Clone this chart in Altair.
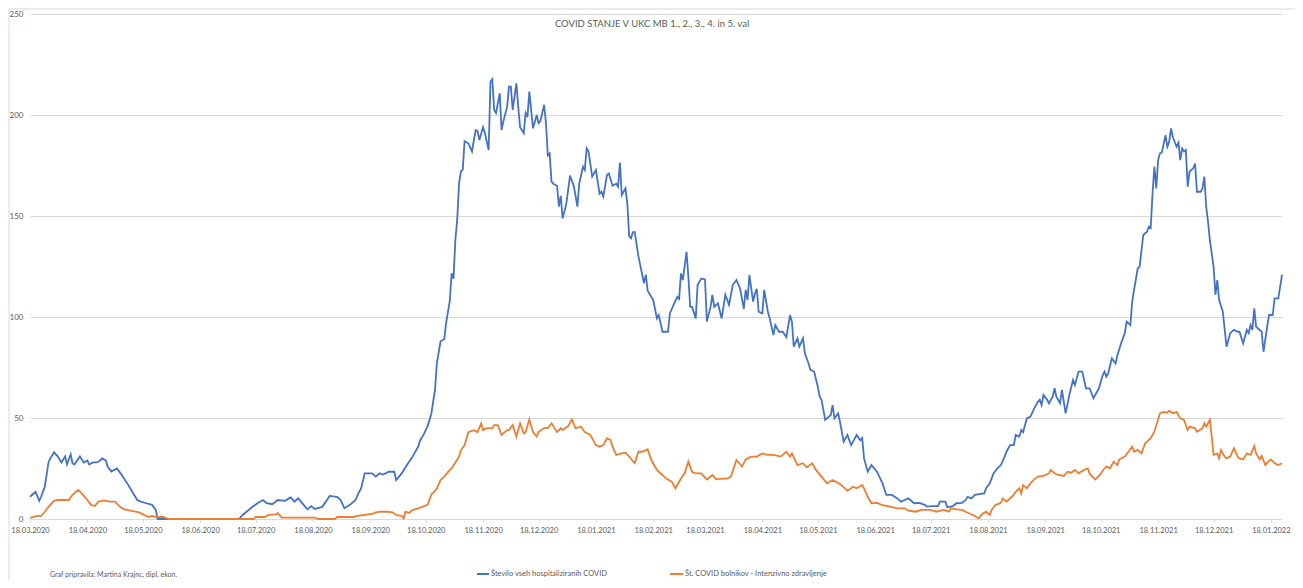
import altair as alt
import pandas as pd

START = pd.Timestamp("2020-03-18")
TITLE = "COVID STANJE V UKC MB 1., 2., 3., 4. in 5. val"
FOOTER = "Graf pripravila: Martina Krajnc, dipl. ekon."
BLUE_NAME = "Število vseh hospitaliziranih COVID"
ORANGE_NAME = "Št. COVID bolnikov - Intenzivno zdravljenje"
BLUE = "#4472C4"
ORANGE = "#ED7D31"

y_ticks = [0, 50, 100, 150, 200, 250]
x_tick_labels = [
    "18.03.2020", "18.04.2020", "18.05.2020", "18.06.2020", "18.07.2020", "18.08.2020",
    "18.09.2020", "18.10.2020", "18.11.2020", "18.12.2020", "18.01.2021", "18.02.2021",
    "18.03.2021", "18.04.2021", "18.05.2021", "18.06.2021", "18.07.2021", "18.08.2021",
    "18.09.2021", "18.10.2021", "18.11.2021", "18.12.2021", "18.01.2022",
]
END_DAY = 677  # days after 18.03.2020 (last reported day)

# days after 18.03.2020 and the number of all hospitalised COVID patients
blue_day = [
    0, 3, 5, 6, 8, 10, 11, 13, 15, 17,
    19, 20, 22, 23, 24, 27, 29, 31, 32, 34,
    36, 38, 39, 41, 42, 44, 47, 49, 52, 55,
    58, 60, 63, 66, 68, 69, 113, 115, 120, 123,
    126, 128, 131, 134, 138, 140, 141, 143, 145, 148,
    150, 152, 154, 158, 160, 162, 166, 168, 170, 173,
    176, 178, 179, 181, 185, 187, 189, 191, 194, 197,
    198, 201, 204, 207, 210, 211, 213, 215, 217, 219,
    220, 222, 224, 225, 227, 228, 229, 230, 231, 232,
    233, 234, 235, 237, 239, 240, 241, 242, 243, 245,
    246, 248, 249, 250, 251, 252, 254, 255, 256, 258,
    259, 260, 261, 263, 264, 265, 267, 268, 269, 270,
    272, 274, 275, 276, 278, 279, 280, 281, 282, 283,
    285, 286, 287, 288, 290, 292, 294, 295, 296, 297,
    299, 300, 301, 302, 304, 306, 308, 309, 310, 312,
    313, 315, 317, 318, 319, 320, 322, 323, 324, 325,
    326, 327, 329, 332, 333, 334, 337, 339, 340, 342,
    345, 346, 348, 350, 351, 352, 353, 355, 356, 357,
    358, 360, 361, 363, 365, 366, 368, 369, 370, 372,
    374, 376, 378, 380, 382, 384, 386, 387, 388, 389,
    391, 392, 393, 394, 396, 397, 399, 400, 402, 403,
    405, 407, 409, 411, 412, 413, 415, 416, 418, 419,
    421, 422, 424, 426, 427, 428, 430, 433, 434, 435,
    437, 438, 440, 442, 444, 447, 449, 450, 451, 453,
    455, 458, 461, 463, 466, 469, 471, 473, 475, 478,
    481, 484, 485, 488, 491, 492, 495, 496, 499, 501,
    504, 506, 507, 509, 511, 514, 516, 517, 519, 521,
    523, 525, 527, 528, 530, 532, 533, 535, 536, 537,
    539, 541, 543, 545, 546, 547, 548, 550, 551, 553,
    554, 555, 557, 558, 560, 562, 564, 565, 567, 569,
    571, 573, 575, 578, 580, 581, 582, 583, 585, 587,
    588, 590, 592, 593, 595, 596, 597, 599, 600, 602,
    604, 605, 606, 607, 608, 609, 610, 611, 612, 614,
    615, 616, 617, 618, 620, 621, 622, 623, 624, 625,
    626, 627, 629, 630, 631, 633, 634, 635, 636, 637,
    638, 640, 641, 642, 643, 645, 647, 649, 651, 653,
    654, 656, 658, 659, 660, 661, 662, 663, 666, 667,
    669, 670, 672, 673, 675, 677,
]
blue_val = [
    11, 13.5, 9, 11, 16, 28, 30, 33, 31, 28,
    31, 27, 32, 27.5, 27, 31, 28, 29, 27, 28,
    28, 29, 30, 29, 26, 23.5, 25, 22.6, 18.5, 14,
    9.4, 8.6, 7.8, 7, 4.5, 0, 0, 2, 5.8, 7.8,
    9.4, 7.8, 7.3, 9.4, 9, 10.2, 10.7, 8.6, 10.2, 7,
    4.8, 6.4, 5, 6, 8.6, 11.4, 11, 9.4, 5.3, 7,
    9.4, 13.5, 15, 22.6, 22.6, 21, 22.6, 22, 23.4, 23.4,
    19.3, 22.6, 27, 31, 36, 39, 42, 46, 52, 64,
    77, 88, 89, 97, 108, 121.6, 119, 138, 148, 166,
    172, 173, 187, 186, 182, 187.5, 192.5, 192, 187.6, 194,
    191, 182.7, 216.5, 217.7, 202.5, 201, 210.7, 192.6, 197, 204,
    214, 214, 202.5, 215.7, 204, 194, 191, 201, 199, 211.6,
    193.4, 200, 196, 197, 205, 196, 180, 181, 167, 166,
    165, 154.6, 160, 148.8, 156, 170, 165, 160, 154.6, 166,
    174.4, 172.8, 183.5, 182, 169.5, 172.8, 161, 162, 159.6, 170.3,
    171, 165, 166, 164.5, 176.4, 160.4, 163.7, 156, 140, 139,
    142, 142, 130, 116.7, 121, 113, 108.4, 99.3, 101, 92.7,
    92.7, 101.8, 106, 110, 109, 121.6, 118.3, 132.3, 120, 105,
    105, 99.3, 116, 119, 118.6, 97.7, 105, 111, 105, 106.8,
    99.3, 111, 106, 115.8, 118.3, 114, 104, 113.4, 108.4, 120.8,
    107.6, 111.7, 114, 102.6, 101.8, 113.4, 102.6, 99.3, 91, 96,
    92.7, 92.7, 90, 101, 97.7, 85.3, 89.4, 85.3, 89.4, 82,
    77, 73.8, 73, 65.5, 60.6, 59, 49, 51.5, 56.4, 49.8,
    52.3, 48, 38.3, 41.6, 36.6, 41.6, 39, 40, 30, 23.4,
    26.7, 23.4, 17.7, 11.9, 11.9, 10.2, 8.6, 9.4, 10.2, 7.8,
    8, 6.9, 6.1, 6.4, 6.4, 8.6, 8.6, 5.8, 6.4, 7.8,
    8, 9.4, 11, 10.2, 11.9, 12.4, 12.7, 15.2, 17.7, 22.6,
    25, 26.7, 30.9, 33.3, 36.6, 36.6, 41.6, 40.8, 44, 43,
    49.8, 50.7, 54.8, 58, 59, 56.4, 61.4, 59, 57.3, 60.6,
    64.7, 60.6, 57.3, 63.9, 52.3, 61.4, 68.8, 66.3, 73, 73,
    64.7, 64.7, 59.7, 64.7, 71, 73, 70.5, 72, 79.5, 77,
    81, 87, 92, 97.7, 96, 107.6, 113.4, 124, 125, 140.6,
    142.2, 144.7, 144, 161.2, 174.4, 163.7, 177.7, 181, 181.4, 190,
    184.3, 186.8, 193.4, 189, 184.3, 186.3, 177.7, 183.5, 182, 182.7,
    164.5, 172, 173.6, 176, 162, 162, 163.7, 169.5, 154.6, 147.2,
    138, 125, 111, 118.3, 108.4, 102.6, 85.3, 92, 93.6, 92.7,
    92.7, 87, 93.6, 92, 96, 93.6, 104.3, 95.2, 92.7, 82.8,
    95.2, 101, 101, 109.2, 109.2, 120.8,
]

# days after 18.03.2020 and the number of COVID patients in intensive care
orange_day = [
    0, 2, 4, 6, 8, 10, 13, 15, 21, 23,
    26, 28, 31, 33, 35, 37, 40, 43, 46, 49,
    51, 55, 59, 61, 64, 66, 68, 72, 75, 121,
    122, 127, 129, 133, 134, 136, 154, 156, 165, 166,
    175, 177, 181, 185, 187, 190, 193, 196, 198, 201,
    202, 203, 205, 207, 210, 212, 215, 217, 220, 222,
    224, 227, 228, 232, 233, 235, 237, 240, 242, 244,
    245, 247, 250, 251, 253, 255, 258, 259, 261, 263,
    265, 267, 268, 270, 272, 274, 275, 278, 280, 282,
    285, 287, 288, 291, 293, 295, 298, 300, 303, 306,
    308, 310, 312, 314, 315, 317, 320, 322, 324, 327,
    329, 331, 334, 336, 339, 342, 344, 347, 349, 352,
    354, 356, 358, 360, 363, 366, 369, 371, 374, 377,
    379, 382, 385, 387, 390, 393, 396, 399, 402, 406,
    409, 411, 412, 415, 418, 420, 423, 425, 428, 431,
    434, 438, 442, 444, 445, 447, 450, 451, 453, 455,
    458, 461, 465, 469, 473, 475, 479, 482, 487, 490,
    494, 497, 498, 501, 504, 507, 510, 513, 515, 517,
    519, 520, 522, 525, 526, 528, 531, 533, 535, 536,
    537, 539, 541, 543, 545, 548, 551, 552, 554, 556,
    559, 561, 563, 565, 567, 570, 572, 573, 576, 578,
    581, 582, 584, 586, 588, 589, 592, 594, 596, 597,
    599, 601, 603, 606, 608, 611, 613, 615, 616, 618,
    620, 622, 624, 626, 627, 630, 631, 634, 635, 636,
    638, 639, 640, 642, 643, 644, 646, 647, 649, 651,
    653, 654, 656, 658, 660, 662, 663, 665, 666, 668,
    669, 671, 673, 675, 677,
]
orange_val = [
    0.5, 1, 1.5, 1.5, 3.6, 6, 9, 9.4, 9.4, 12,
    14.4, 12.7, 9.4, 7, 6.4, 8.6, 9.2, 8.6, 8.6, 5.8,
    4.8, 4, 3.3, 2.3, 1, 1.5, 1, 1, 0, 0,
    1, 1, 2, 2.3, 3, 0.7, 0.7, 0, 0, 1,
    1, 1.5, 2, 2.5, 3.3, 3.6, 3.6, 3.3, 2, 1.5,
    0.3, 3.6, 3, 4.5, 5.3, 6, 7, 12, 15, 19.3,
    21, 24.3, 25, 30.9, 34, 36.6, 43, 44, 43, 47.4,
    44, 45, 45, 46.5, 46.5, 41.6, 44, 44, 46.5, 40.8,
    47.4, 42.4, 43, 49.3, 43, 40.8, 43, 45, 45, 47.4,
    43, 45, 44, 46, 49.3, 45, 45.7, 43, 41.6, 36.6,
    35.8, 36.6, 40, 39, 35.8, 31.7, 32.5, 32.8, 30.9, 27.6,
    33.3, 33.3, 34.5, 29.2, 24.3, 21.8, 20, 18.5, 15.2, 20,
    22.6, 28.4, 23.4, 22.6, 22.6, 19.6, 21.8, 19.6, 20, 20,
    21, 29.2, 26, 29.5, 30.9, 30.9, 32.5, 31.7, 31.7, 30.9,
    33.3, 30.9, 32.5, 26.7, 27.6, 25.6, 27.6, 24.3, 21, 17.7,
    19.3, 17.3, 14, 15.2, 16, 15.2, 16.8, 15.2, 11, 7.8,
    8, 6.9, 6.1, 5.3, 5.3, 4.1, 3.6, 4.5, 4.5, 3.6,
    4.5, 3.6, 5.3, 4.8, 4.5, 3.1, 2, 0.3, 2.5, 3.6,
    2, 4.5, 6.9, 8, 10.2, 8.6, 11, 13.5, 15.2, 12.7,
    16.8, 15.2, 17.7, 19.6, 21, 21.3, 22.6, 24.3, 22.6, 21.8,
    21.3, 23.4, 22.9, 24.3, 22.6, 24.3, 25, 22.3, 19.6, 21.3,
    25, 26, 25, 28.4, 26.7, 29.5, 30.9, 33.3, 35.8, 33.3,
    34.2, 32.5, 37.5, 40, 43.2, 52.3, 53, 52.6, 53.6, 52.3,
    53, 49.8, 49, 44, 45.7, 44.9, 43.2, 44.9, 47.4, 45.7,
    49, 40.8, 31.7, 32.5, 30, 34.2, 30.9, 30, 30.9, 35,
    30.9, 30, 29.5, 32.5, 31.7, 36.1, 32.5, 29.5, 31.2, 26.7,
    27.9, 29.5, 27.6, 26.7, 27.6,
]

assert len(blue_day) == len(blue_val)
assert len(orange_day) == len(orange_val)


def frame(days, vals, name):
    return pd.DataFrame({
        "date": [(START + pd.Timedelta(days=d)).strftime("%Y-%m-%d") for d in days],
        "value": vals,
        "series": name,
    })


def to_dt(label):
    d, m, y = (int(p) for p in label.split("."))
    return alt.DateTime(year=y, month=m, date=d, utc=True)


end_date = START + pd.Timedelta(days=END_DAY)
x_domain = [to_dt("18.03.2020"), alt.DateTime(year=end_date.year, month=end_date.month,
                                              date=end_date.day, utc=True)]

blue_df = frame(blue_day, blue_val, BLUE_NAME)
orange_df = frame(orange_day, orange_val, ORANGE_NAME)

GRID = "#d9d9d9"
TEXT = "#595959"
FONT = "Lato"

x_axis = alt.Axis(
    values=[to_dt(s) for s in x_tick_labels],
    labelExpr="utcFormat(datum.value, '%d.%m.%Y')",
    title=None, grid=False, domainColor=GRID, tickColor=GRID, tickSize=3,
    labelFontSize=7.5, labelColor=TEXT, labelPadding=4, labelOverlap=False,
    labelFlush=False, labelFont=FONT,
)
y_axis = alt.Axis(
    values=y_ticks, title=None, grid=True, gridColor=GRID, gridWidth=1, domain=False,
    ticks=False, labelFontSize=8, labelColor=TEXT, labelPadding=7, labelFont=FONT,
)
x_enc = alt.X("date:T", scale=alt.Scale(type="utc", domain=x_domain), axis=x_axis)
y_enc = alt.Y("value:Q", scale=alt.Scale(domain=[0, 250], nice=False), axis=y_axis)

blue_line = alt.Chart(blue_df).mark_line(color=BLUE, strokeWidth=1.8).encode(x=x_enc, y=y_enc)
orange_line = alt.Chart(orange_df).mark_line(color=ORANGE, strokeWidth=1.8).encode(x=x_enc, y=y_enc)

label_df = pd.DataFrame({"title": [TITLE], "footer": [FOOTER],
                         "blue": [BLUE_NAME], "orange": [ORANGE_NAME]})
base = alt.Chart(label_df)

title_mark = base.mark_text(font=FONT, fontSize=9.5, color=TEXT, align="center",
                            baseline="middle").encode(
    text="title:N", x=alt.value(622), y=alt.value(10))
footer_mark = base.mark_text(font=FONT, fontSize=7, color=TEXT, align="left",
                             baseline="middle").encode(
    text="footer:N", x=alt.value(20), y=alt.value(561))

leg_blue_sym = base.mark_rule(color=BLUE, strokeWidth=2).encode(
    x=alt.value(447), x2=alt.value(459), y=alt.value(560))
leg_blue_txt = base.mark_text(font=FONT, fontSize=7.5, color=TEXT, align="left",
                              baseline="middle").encode(
    text="blue:N", x=alt.value(461), y=alt.value(560))
leg_orange_sym = base.mark_rule(color=ORANGE, strokeWidth=2).encode(
    x=alt.value(640), x2=alt.value(653), y=alt.value(560))
leg_orange_txt = base.mark_text(font=FONT, fontSize=7.5, color=TEXT, align="left",
                                baseline="middle").encode(
    text="orange:N", x=alt.value(655), y=alt.value(560))

border_left = base.mark_rule(color=GRID, strokeWidth=1).encode(
    x=alt.value(-21), y=alt.value(-5), y2=alt.value(566))
border_top = base.mark_rule(color=GRID, strokeWidth=1).encode(
    x=alt.value(-21), x2=alt.value(1270), y=alt.value(-5))

chart = alt.layer(
    blue_line, orange_line, title_mark, footer_mark,
    leg_blue_sym, leg_blue_txt, leg_orange_sym, leg_orange_txt,
    border_left, border_top,
).properties(
    width=1252, height=505,
    padding={"left": 22, "top": 6, "right": 13, "bottom": 61},
    autosize=alt.AutoSizeParams(type="none"),
).configure(font=FONT).configure_view(stroke=None)

chart.save("out.html", embed_options={"renderer": "svg", "actions": False})
